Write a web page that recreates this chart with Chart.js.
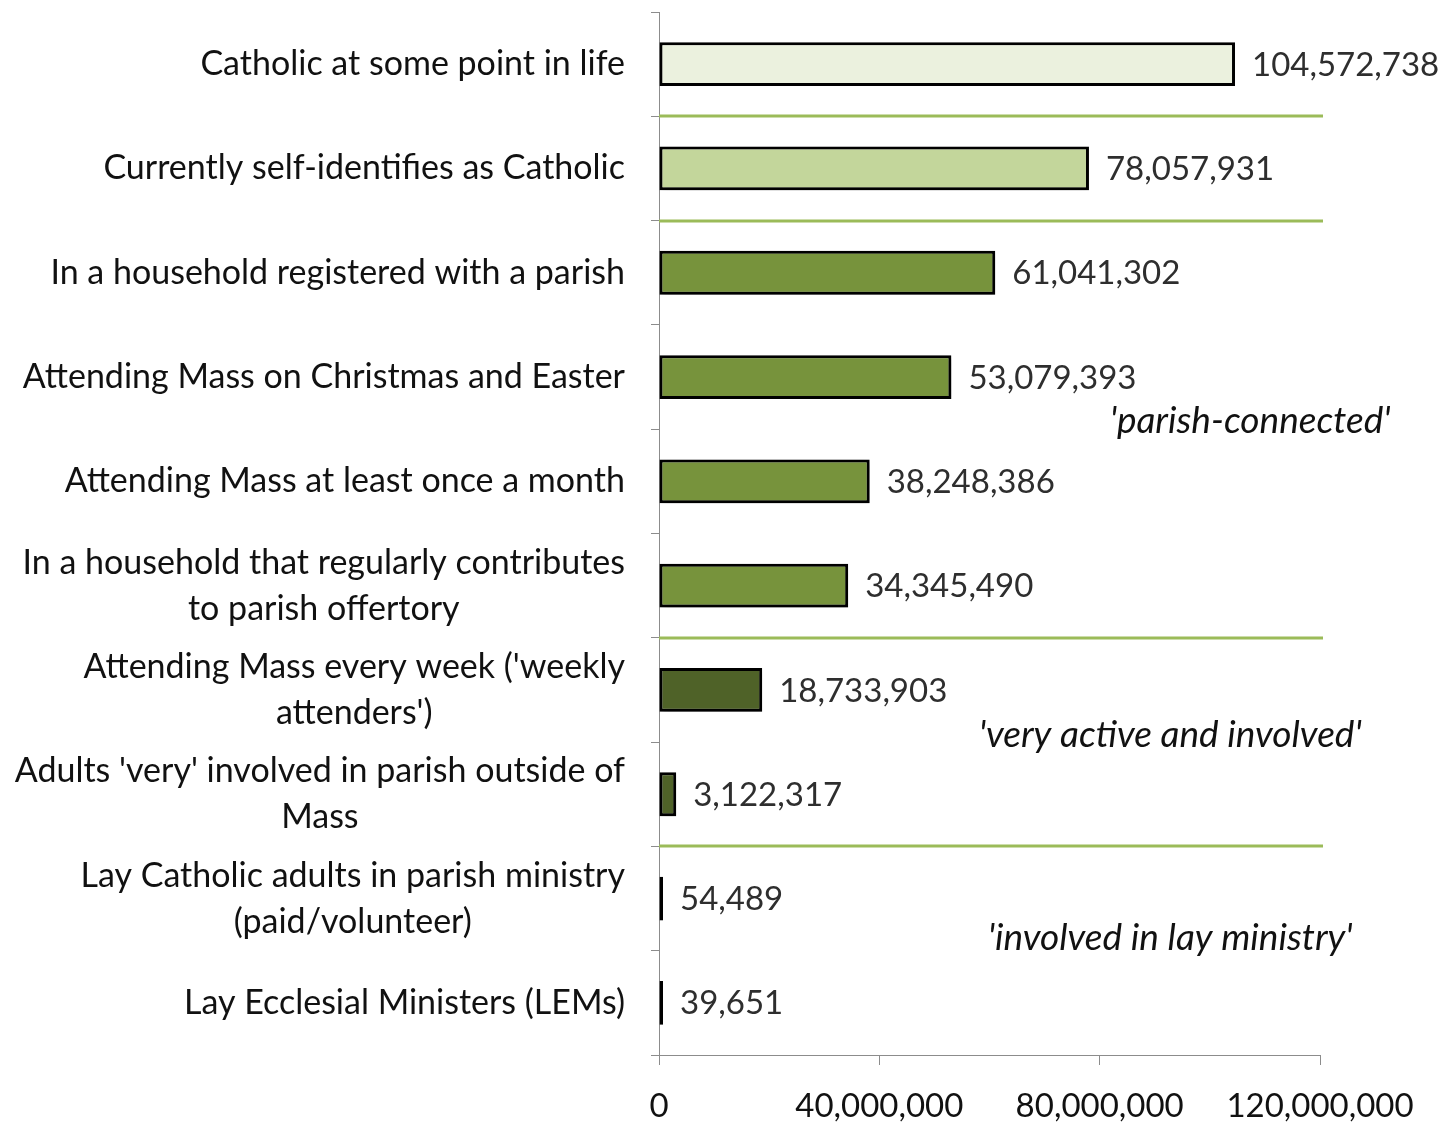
<!DOCTYPE html>
<html>
<head>
<meta charset="utf-8">
<script src="https://cdn.jsdelivr.net/npm/chart.js@4/dist/chart.umd.min.js"></script>
<style>
  html, body { margin: 0; padding: 0; background: #ffffff; }
  #wrap { width: 1441px; height: 1124px; position: relative; }
</style>
</head>
<body>
<div id="wrap"><canvas id="c" width="1441" height="1124"></canvas></div>
<script>
// ---- data ----
const categories = [
  ["Catholic at some point in life"],
  ["Currently self-identifies as Catholic"],
  ["In a household registered with a parish"],
  ["Attending Mass on Christmas and Easter"],
  ["Attending Mass at least once a month"],
  ["In a household that regularly contributes", "to parish offertory"],
  ["Attending Mass every week ('weekly", "attenders')"],
  ["Adults 'very' involved in parish outside of", "Mass"],
  ["Lay Catholic adults in parish ministry", "(paid/volunteer)"],
  ["Lay Ecclesial Ministers (LEMs)"]
];
const values = [104572738, 78057931, 61041302, 53079393, 38248386, 34345490, 18733903, 3122317, 54489, 39651];
const barColors = ["#ebf1de", "#c3d69b", "#77933c", "#77933c", "#77933c", "#77933c", "#4f6228", "#4f6228", "#4f6228", "#4f6228"];
const xTicks = [0, 40000000, 80000000, 120000000];
// separators drawn after these category indices (between i and i+1)
const separatorsAfter = [0, 1, 5, 7];
// group annotations: [text, x value, y position in category units]
const groupNotes = [
  ["'parish-connected'", 107300000, 3.42],
  ["'very active and involved'", 92800000, 6.43],
  ["'involved in lay ministry'", 92800000, 8.38]
];

const FONT = "Lato, 'Open Sans', sans-serif";
const FS_LABEL = 34;
const FS_NUM = 33;
const FS_NOTE = 37;
const fmt = v => v.toLocaleString('en-US');

const shadowPlugin = {
  id: 'shadow',
  beforeDatasetsDraw(chart) {
    const ctx = chart.ctx;
    ctx.save();
    ctx.shadowColor = 'rgba(0,0,0,0.35)';
    ctx.shadowBlur = 6;
    ctx.shadowOffsetX = 2;
    ctx.shadowOffsetY = 3;
  },
  afterDatasetsDraw(chart) {
    chart.ctx.restore();
  }
};

const decorPlugin = {
  id: 'decor',
  afterDraw(chart) {
    const ctx = chart.ctx;
    const xs = chart.scales.x, ys = chart.scales.y;
    ctx.save();
    // separators
    ctx.strokeStyle = '#9bbb59';
    ctx.lineWidth = 3;
    separatorsAfter.forEach(i => {
      const y = Math.round((ys.getPixelForValue(i) + ys.getPixelForValue(i + 1)) / 2);
      ctx.beginPath();
      ctx.moveTo(xs.left, y);
      ctx.lineTo(xs.right + 3, y);
      ctx.stroke();
    });
    // category labels: block right-aligned, lines centered in block
    ctx.font = FS_LABEL + 'px ' + FONT;
    ctx.fillStyle = '#111111';
    ctx.textAlign = 'center';
    ctx.textBaseline = 'middle';
    const rightEdge = xs.left - 34;
    const lh = 46;
    categories.forEach((lines, i) => {
      const cy = ys.getPixelForValue(i);
      const w = Math.max(...lines.map(l => ctx.measureText(l).width));
      const cx = rightEdge - w / 2;
      const y0 = cy - (lines.length - 1) * lh / 2;
      lines.forEach((l, k) => ctx.fillText(l, cx, y0 + k * lh));
    });
    // value labels
    ctx.font = FS_NUM + 'px ' + FONT;
    ctx.fillStyle = '#2e2e2e';
    ctx.textAlign = 'left';
    const meta = chart.getDatasetMeta(0);
    meta.data.forEach((bar, i) => {
      ctx.fillText(fmt(values[i]), bar.x + 17, bar.y + 1);
    });
    // group notes
    ctx.font = 'italic ' + FS_NOTE + 'px ' + FONT;
    ctx.fillStyle = '#111111';
    ctx.textAlign = 'center';
    groupNotes.forEach(([t, xv, yv]) => {
      ctx.fillText(t, xs.getPixelForValue(xv), ys.getPixelForValue(yv));
    });
    ctx.restore();
  }
};

new Chart(document.getElementById('c'), {
  type: 'bar',
  data: {
    labels: categories,
    datasets: [{
      data: values,
      backgroundColor: barColors,
      borderColor: '#000000',
      borderWidth: 3,
      borderSkipped: false,
      minBarLength: 4,
      barPercentage: 0.42,
      categoryPercentage: 1.0
    }]
  },
  options: {
    indexAxis: 'y',
    responsive: false,
    animation: false,
    devicePixelRatio: 1,
    layout: { padding: { top: 12, right: 121, left: 0, bottom: 0 } },
    plugins: {
      legend: { display: false },
      tooltip: { enabled: false }
    },
    scales: {
      x: {
        min: 0,
        max: 120000000,
        afterBuildTicks(scale) { scale.ticks = xTicks.map(v => ({ value: v })); },
        afterFit(scale) { scale.height = 69; },
        grid: {
          drawOnChartArea: false,
          drawTicks: true,
          tickLength: 10,
          color: '#8c8c8c',
          lineWidth: 1
        },
        border: { color: '#8c8c8c', width: 1 },
        ticks: {
          color: '#111111',
          padding: 22,
          maxRotation: 0,
          font: { family: FONT, size: FS_NUM },
          callback: v => fmt(v)
        }
      },
      y: {
        afterFit(scale) { scale.width = 659; },
        grid: {
          offset: true,
          drawOnChartArea: false,
          drawTicks: true,
          tickLength: 8,
          color: '#8c8c8c',
          lineWidth: 1
        },
        border: { color: '#8c8c8c', width: 1 },
        ticks: { display: false }
      }
    }
  },
  plugins: [shadowPlugin, decorPlugin]
});
</script>
</body>
</html>
